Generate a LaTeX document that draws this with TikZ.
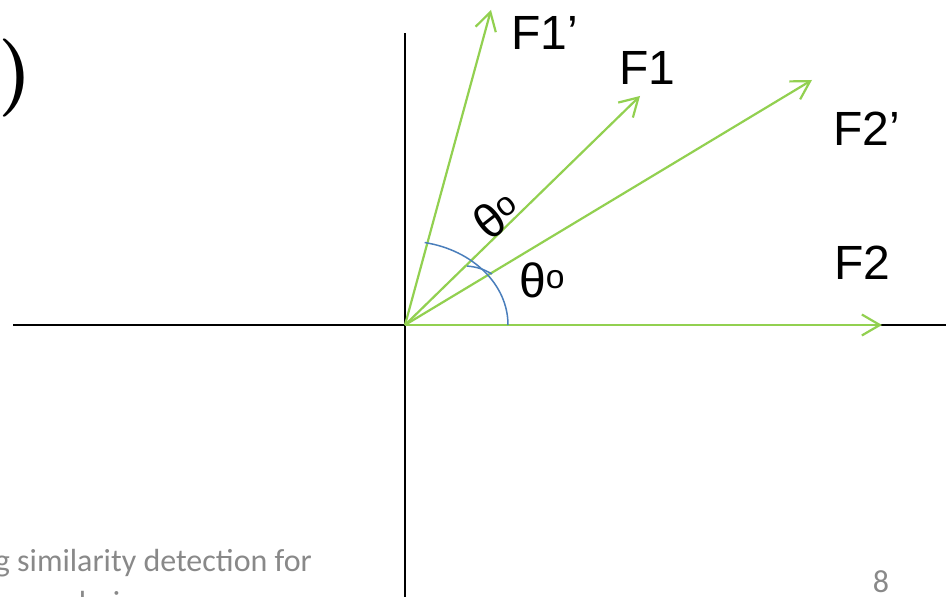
\documentclass[tikz,border=0pt]{standalone}
\usepackage{fontspec}
\setmainfont{Liberation Sans}
\newfontfamily\footfont{Carlito}
\newfontfamily\parenfont{Latin Modern Roman}
\usetikzlibrary{arrows.meta}

\definecolor{VecGreen}{HTML}{92D050}
\definecolor{ArcBlue}{HTML}{4A7EBB}
\definecolor{FootGray}{HTML}{898989}

\def\W{951}
\def\H{597}
\def\LabelSize{\fontsize{48}{56}\selectfont}
\def\AngSize{\fontsize{48}{56}\selectfont}

\tikzset{
  axis/.style={black, line width=1.6pt},
  vec/.style={VecGreen, line width=2.2pt, -{Straight Barb[length=18pt,width=21pt,line width=2.2pt]}},
  ang/.style={ArcBlue, line width=1.5pt},
  flabel/.style={anchor=base west, inner sep=0pt, font=\LabelSize},
  thlabel/.style={inner sep=0pt, font=\AngSize},
  foot/.style={FootGray, inner sep=0pt, font=\footfont\fontsize{32}{38}\selectfont}
}

\begin{document}
\begin{tikzpicture}[x=1pt,y=1pt]
  \useasboundingbox (0,0) rectangle (\W,\H);

  % --- Ejes ---
  \coordinate (O) at (405,272);
  \coordinate (ytop) at (405,564);
  \coordinate (ybot) at (405,-5);
  \coordinate (xleft) at (13,272);
  \coordinate (xright) at (946,272);
  \draw[axis] (xleft) -- (xright);
  \draw[axis] (ybot) -- (ytop);

  % --- Vectores ---
  \coordinate (f1p) at (491,587);
  \coordinate (f1) at (640,501);
  \coordinate (f2p) at (812,517);
  \coordinate (f2) at (882,272);
  \foreach \tip in {f1p,f1,f2p,f2}
  {
    \draw[vec] (O) -- (\tip);
  }

  % --- Angulos ---
  \coordinate (arcstart) at (508,272);
  \coordinate (inA) at (467,331);
  \coordinate (inB) at (492,323);
  \draw[ang] (arcstart) arc[start angle=0, end angle=79, x radius=103, y radius=84];
  \draw[ang] (inA) to[bend left=12] (inB);

  % --- Etiquetas ---
  \foreach \n/\x/\y/\t in {lf1p/511/547/F1’, lf1/619/512/F1, lf2p/833/451/F2’, lf2/834/317/F2}
  {
    \node[flabel] (\n) at (\x,\y) {\t};
  }
  \node[thlabel, anchor=base west] (th2) at (519,299) {θ\textsuperscript{o}};
  \node[thlabel, rotate=38] (th1) at (497,382) {θ\textsuperscript{o}};

  % --- Resto de la diapositiva ---
  \node[inner sep=0pt, font=\parenfont\bfseries\fontsize{78}{86}\selectfont] (paren) at (16,519) {)};
  \node[foot, anchor=base east] (foot1) at (312,25) {g similarity detection for};
  \node[foot, anchor=base west] (foot2) at (8,-17) {e analysis};
  \node[foot] (page) at (881,15) {8};
\end{tikzpicture}
\end{document}
